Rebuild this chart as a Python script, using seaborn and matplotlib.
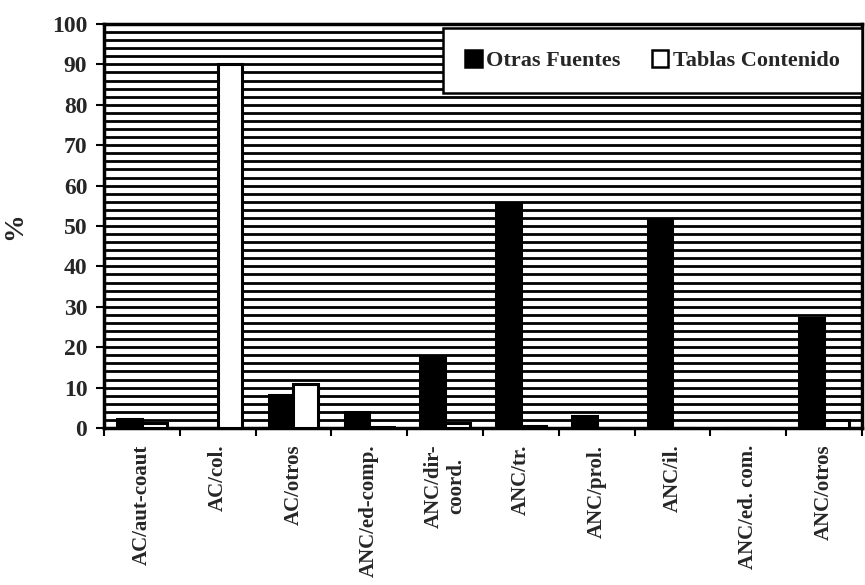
import numpy as np
import pandas as pd
import matplotlib
matplotlib.use("Agg")
import matplotlib.pyplot as plt
import seaborn as sns

# categorias y valores (%)
categorias = ['AC/aut-coaut', 'AC/col.', 'AC/otros', 'ANC/ed-comp.', 'ANC/dir-\ncoord.',
              'ANC/tr.', 'ANC/prol.', 'ANC/il.', 'ANC/ed. com.', 'ANC/otros']
otras_fuentes = [2.3, 0, 8.2, 3.9, 17.5, 55.8, 3.0, 51.7, 0, 27.3]
tablas_contenido = [1.2, 90, 10.9, 0.3, 1.2, 0.5, 0, 0, 0, 2.0]
series = ['Otras Fuentes', 'Tablas Contenido']

df = pd.DataFrame({
    'cat': categorias * 2,
    'val': otras_fuentes + tablas_contenido,
    'serie': [series[0]] * len(categorias) + [series[1]] * len(categorias),
})

sns.set_theme(style='white')
plt.rcParams['font.family'] = ['Liberation Serif', 'DejaVu Serif']

fig = plt.figure(figsize=(8.65, 5.85), dpi=100)
ax = fig.add_axes([0.1202, 0.2684, 0.8763, 0.6906])

sns.barplot(data=df, x='cat', y='val', hue='serie', palette=['black', 'white'],
            edgecolor='black', linewidth=2.2, width=0.65, saturation=1, ax=ax, zorder=3)

# fondo rayado: lineas horizontales cada 2 unidades
ax.set_ylim(0, 100)
ax.set_yticks(np.arange(0, 101, 10))
ax.set_yticks(np.arange(0, 101, 2), minor=True)
ax.grid(True, which='both', axis='y', color='black', lw=2.0)
ax.grid(False, axis='x')
ax.set_axisbelow(True)

ax.set_xlim(-0.5, len(categorias) - 0.5)
ax.set_xticks(np.arange(-0.5, len(categorias), 1))
ax.set_xticklabels([])
ax.set_xticks(np.arange(len(categorias)), minor=True)
ax.set_xticklabels(categorias, minor=True, rotation=90, va='top', ha='center',
                   multialignment='center', fontsize=15, fontweight='bold')

ax.tick_params(axis='x', which='major', direction='out', length=6, width=1.5, color='black', bottom=True)
ax.tick_params(axis='x', which='minor', length=0, pad=12)
ax.tick_params(axis='y', which='major', direction='out', length=6, width=1.5, color='black', left=True,
               labelsize=17, pad=6)
ax.tick_params(axis='y', which='minor', length=0)
for lab in ax.get_yticklabels():
    lab.set_fontweight('bold')

ax.set_xlabel('')
ax.set_ylabel('%', fontsize=20, fontweight='bold', labelpad=18)

for sp in ax.spines.values():
    sp.set_visible(True)
    sp.set_color('black')
    sp.set_linewidth(2.5)

leg = ax.legend(ncol=2, loc='upper right', bbox_to_anchor=(1.0, 0.99), borderaxespad=0,
                frameon=True, fancybox=False, edgecolor='black', framealpha=1,
                prop={'family': 'Liberation Serif', 'size': 16, 'weight': 'bold'},
                handlelength=0.75, handleheight=0.75, handletextpad=0.2, columnspacing=1.4,
                borderpad=1.0)
leg.get_frame().set_linewidth(1.8)
for h in leg.legend_handles:
    h.set_edgecolor('black')
    h.set_linewidth(1.8)

fig.savefig('out.png', dpi=100)
